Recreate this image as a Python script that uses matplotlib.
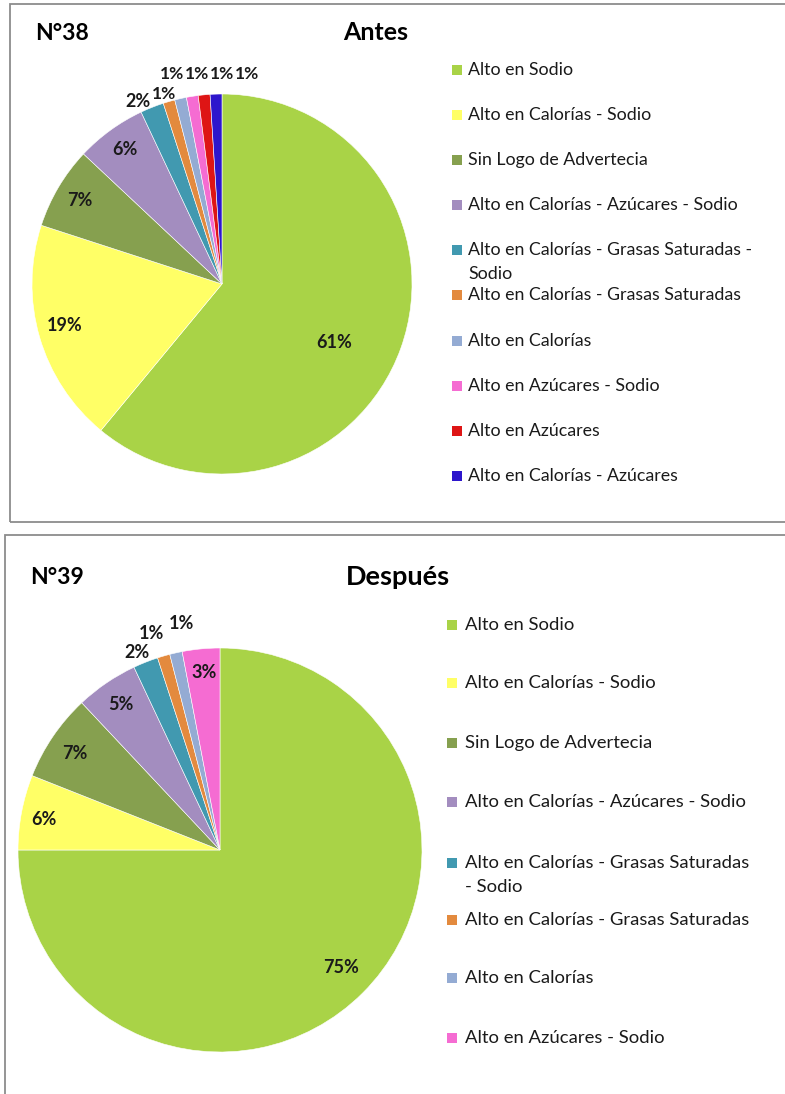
import matplotlib
matplotlib.use("Agg")
import matplotlib.pyplot as plt
from matplotlib.patches import Rectangle

plt.rcParams['font.family'] = ['Lato', 'DejaVu Sans']

# ---------------- data ----------------
cats_before = ["Alto en Sodio", "Alto en Calorías - Sodio", "Sin Logo de Advertecia",
               "Alto en Calorías - Azúcares - Sodio",
               "Alto en Calorías - Grasas Saturadas - Sodio",
               "Alto en Calorías - Grasas Saturadas", "Alto en Calorías",
               "Alto en Azúcares - Sodio", "Alto en Azúcares", "Alto en Calorías - Azúcares"]
vals_before = [61, 19, 7, 6, 2, 1, 1, 1, 1, 1]
legend_before = ["Alto en Sodio", "Alto en Calorías - Sodio", "Sin Logo de Advertecia",
                 "Alto en Calorías - Azúcares - Sodio",
                 "Alto en Calorías - Grasas Saturadas -\nSodio",
                 "Alto en Calorías - Grasas Saturadas", "Alto en Calorías",
                 "Alto en Azúcares - Sodio", "Alto en Azúcares", "Alto en Calorías - Azúcares"]

cats_after = ["Alto en Sodio", "Alto en Calorías - Sodio", "Sin Logo de Advertecia",
              "Alto en Calorías - Azúcares - Sodio",
              "Alto en Calorías - Grasas Saturadas - Sodio",
              "Alto en Calorías - Grasas Saturadas", "Alto en Calorías",
              "Alto en Azúcares - Sodio"]
vals_after = [75, 6, 7, 5, 2, 1, 1, 3]
legend_after = ["Alto en Sodio", "Alto en Calorías - Sodio", "Sin Logo de Advertecia",
                "Alto en Calorías - Azúcares - Sodio",
                "Alto en Calorías - Grasas Saturadas\n- Sodio",
                "Alto en Calorías - Grasas Saturadas", "Alto en Calorías",
                "Alto en Azúcares - Sodio"]

colors_all = ['#A9D347', '#FFFF66', '#86A04F', '#A38DBF', '#4199B0',
              '#E38A3E', '#94ABD3', '#F56CD2', '#DE1515', '#2D16CC']

# ---------------- layout (pixels) ----------------
W, H = 785, 1094
fig = plt.figure(figsize=(W / 100, H / 100), dpi=100)


def fx(x):
    return x / W


def fy(y):
    return 1 - y / H


# panel borders
for (x0, y0, x1, y1) in [(10, 4, 800, 522), (5, 535, 800, 1110)]:
    fig.add_artist(Rectangle((fx(x0), fy(y1)), fx(x1 - x0), (y1 - y0) / H,
                             transform=fig.transFigure, fill=False,
                             edgecolor='#8C8C8C', linewidth=1.3, clip_on=False))


def draw_pie(vals, colors, cx, cy, r, label_pos, label_fs):
    k = 1.25
    ax = fig.add_axes([fx(cx - k * r), fy(cy + k * r), 2 * k * r / W, 2 * k * r / H])
    ax.set_xlim(-k, k)
    ax.set_ylim(-k, k)
    ax.set_aspect('equal')
    ax.axis('off')
    ax.pie(vals, colors=colors, startangle=90, counterclock=False, radius=1,
           wedgeprops=dict(edgecolor='white', linewidth=0.4))
    for v, (lx, ly), fs in zip(vals, label_pos, label_fs):
        ax.text(lx, ly, f"{v}%", ha='center', va='center', fontsize=fs,
                fontweight='bold', color='#1a1a1a')
    return ax


# label positions in radius units (relative to pie centre)
lab_before = [(0.59, -0.31), (-0.83, -0.22), (-0.75, 0.44), (-0.51, 0.71),
              (-0.44, 0.96), (-0.305, 1.0), (-0.262, 1.105), (-0.131, 1.105),
              (0.0, 1.105), (0.131, 1.105)]
fs_before = [13, 13, 13, 13, 13, 12.5, 12.5, 12.5, 12.5, 12.5]
lab_after = [(0.60, -0.58), (-0.87, 0.15), (-0.72, 0.48), (-0.49, 0.72),
             (-0.41, 0.98), (-0.34, 1.07), (-0.19, 1.12), (-0.08, 0.88)]
fs_after = [13] * len(vals_after)

draw_pie(vals_before, colors_all[:len(vals_before)], 222, 284, 190, lab_before, fs_before)
after_colors = colors_all[:7] + [colors_all[7]]
draw_pie(vals_after, after_colors, 220, 850, 202, lab_after, fs_after)

# titles
fig.text(fx(35), fy(34), "N°38", fontsize=16.5, fontweight='bold', ha='left', va='center')
fig.text(fx(376), fy(33), "Antes", fontsize=18, fontweight='bold', ha='center', va='center')
fig.text(fx(30), fy(578), "N°39", fontsize=16.5, fontweight='bold', ha='left', va='center')
fig.text(fx(398), fy(577), "Después", fontsize=19.5, fontweight='bold', ha='center', va='center')


def draw_legend(labels, colors, mx, tx, ys, fs, msize):
    for lab, c, y in zip(labels, colors, ys):
        fig.add_artist(Rectangle((fx(mx), fy(y + msize / 2)), msize / W, msize / H,
                                 transform=fig.transFigure, facecolor=c,
                                 edgecolor='none'))
        lines = lab.split("\n")
        fig.text(fx(tx), fy(y), lines[0], fontsize=fs, ha='left', va='center',
                 color='#1a1a1a')
        if len(lines) > 1:
            fig.text(fx(tx), fy(y + 24), lines[1], fontsize=fs, ha='left',
                     va='center', color='#1a1a1a')


ys_before = [70, 115, 160, 205, 250, 295, 341, 386, 431, 476]
ys_after = [625, 683, 743, 802, 863, 920, 978, 1038]
draw_legend(legend_before, colors_all, 452, 468, ys_before, 12.8, 10)
draw_legend(legend_after, after_colors, 447, 465, ys_after, 13.3, 10)

fig.savefig("out.png", dpi=100, facecolor='white')
